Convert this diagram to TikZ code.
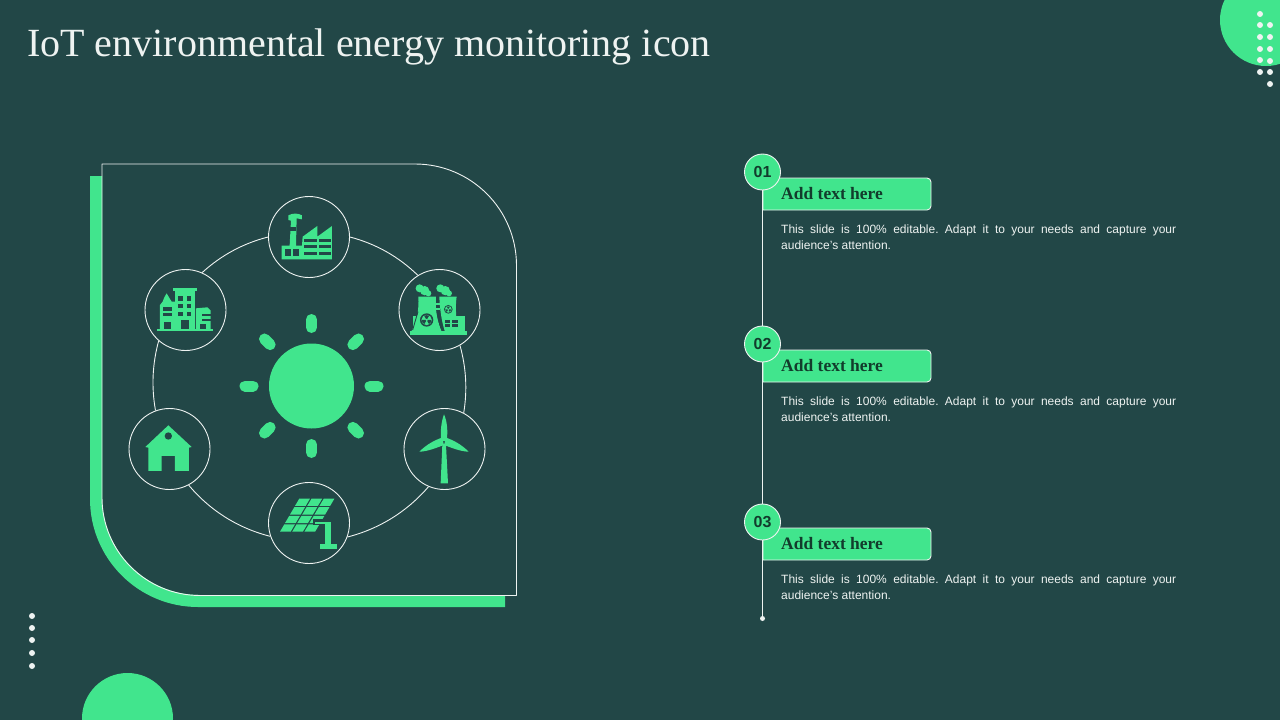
\documentclass[tikz,border=0pt]{standalone}
\usepackage{fontspec}
\setmainfont{Liberation Serif}
\setsansfont{Liberation Sans}
\definecolor{slate}{HTML}{224747}
\definecolor{mint}{HTML}{41E58D}
\definecolor{inkgreen}{HTML}{123C2C}
\definecolor{paper}{HTML}{EEF3F1}
\tikzset{
zoomed/.style 2 args={shift={(#1,#2)},x=0.3333pt,y=-0.3333pt},
ring/.style={circle,draw=paper,fill=slate,line width=0.9pt,minimum size=81pt,inner sep=0pt},
link/.style={draw=paper,line width=0.9pt,looseness=0.88},
ray/.style={draw=mint,line width=11pt,line cap=round},
numdisc/.style={circle,draw=paper,fill=mint,line width=0.9pt,minimum size=36pt,inner sep=0pt,text=inkgreen,font=\sffamily\bfseries\fontsize{16}{16}\selectfont},
tagbox/.style={draw=paper,fill=mint,line width=0.9pt},
tagtext/.style={anchor=base west,inner sep=0pt,text=inkgreen,font=\bfseries\fontsize{17.5}{17.5}\selectfont},
bodytext/.style={anchor=north west,inner sep=0pt,text width=395pt,align=justify,text=paper,font=\sffamily\fontsize{12}{16}\selectfont,execute at begin node={\frenchspacing\hyphenpenalty=10000 \tolerance=9999 }},
dot/.style={fill=paper}
}
\begin{document}
\begin{tikzpicture}[x=1pt,y=-1pt,line join=round]
\useasboundingbox (0,0) rectangle (1280,720);
\fill[slate] (0,0) rectangle (1280,720);
\clip (0,0) rectangle (1280,720);
\node[anchor=base west,inner sep=0pt,text=paper,font=\fontsize{40}{42}\selectfont] (title) at (27,56) {IoT environmental energy monitoring icon};
% corners
\fill[mint] (1266,20) circle (46);
\fill[mint] (127.5,718.5) circle (45.5);
\foreach \y in {14,25,37,49,60,72} \fill[dot] (1260,\y) circle (3);
\foreach \y in {25,37,49,61,72,84} \fill[dot] (1270,\y) circle (3);
\foreach \y in {616,628,640,653,666} \fill[dot] (32,\y) circle (3);
% panel
\fill[mint] (90,176)--(102,176)--(102,497) arc (180:90:98)--(505,595)--(505,607)--(198,607) arc (90:180:108)--cycle;
\draw[paper,line width=0.9pt] (102,164)--(415,164) arc (-90:0:101.5)--(516.5,595.5)--(200,595.5) arc (90:180:98)--cycle;
% ring of nodes
\node[ring] (factory) at (309,237) {};
\node[ring] (plant) at (439.5,310) {};
\node[ring] (turbine) at (444.5,449) {};
\node[ring] (solar) at (309,523) {};
\node[ring] (house) at (169.5,449) {};
\node[ring] (city) at (185.5,310) {};
\draw[link] (factory.0) to[bend left=14.7] (plant.122);
\draw[link] (plant.-60) to[bend left=12.4] (turbine.62.6);
\draw[link] (turbine.-113.5) to[bend left=17.5] (solar.-20);
\draw[link] (solar.199) to[bend left=18] (house.-62.6);
\draw[link] (house.110) to[bend left=12.6] (city.229.6);
\draw[link] (city.66) to[bend left=14] (factory.180);
% sun
\fill[mint] (311.5,386) circle (42.5);
\foreach \a in {0,45,...,315}
  \draw[ray] ([shift={(\a:58.5)}]311.5,386)--([shift={(\a:66.5)}]311.5,386);
% factory
\begin{scope}[zoomed={120}{180}]
\fill[mint] (485,238)--(485,197)--(509,197)--(513,122)--(505,120)--(505,106) .. controls (520,98) and (535,100) .. (546,106)--(546,118)--(530,115)--(528,197)--(546,197)--(548,170)--(592,138)--(592,170)--(636,138)--(636,238)--cycle;
\fill[slate] (510,142) rectangle (528,154);
\foreach \x in {495,520} \fill[slate] (\x,208) rectangle (\x+18,228);
\foreach \y in {177,196,216} {
  \fill[slate] (552,\y) rectangle (590,\y+8);
  \fill[slate] (597,\y) rectangle (632,\y+8);
}
\end{scope}
% city
\begin{scope}[zoomed={120}{180}]
\fill[mint] (158,324) rectangle (232,333);
\fill[mint] (165,333) rectangle (225,447);
\fill[mint] (120,447)--(120,375)--(128,365)--(133,352)--(140,340)--(147,352)--(155,365)--(165,365)--(165,447)--cycle;
\fill[mint] (228,447)--(228,385)--(262,382)--(272,392)--(272,447)--cycle;
\fill[mint] (110,447) rectangle (280,453);
\foreach \x in {175,200} \foreach \y in {348,371,395} \fill[slate] (\x,\y) rectangle (\x+14,\y+14);
\fill[slate] (183,420) rectangle (207,447);
\fill[slate] (130,382) rectangle (155,392);
\fill[slate] (130,398) rectangle (155,408);
\fill[slate] (132,427) rectangle (152,447);
\fill[slate] (247,402) rectangle (272,408);
\fill[slate] (247,416) rectangle (272,422);
\fill[slate] (240,433) rectangle (258,447);
\end{scope}
% plant
\begin{scope}[zoomed={120}{180}]
\foreach \d in {0,62} {
  \fill[mint] (899+\d,325) circle (12);
  \fill[mint] (914+\d,332) circle (14);
  \fill[mint] (925+\d,340) circle (9);
}
\fill[mint] (1005,408) rectangle (1035,455);
\fill[mint] (870,452) rectangle (1040,465);
\fill[mint] (880,408) rectangle (900,455);
\fill[mint] (895,350)--(948,350) .. controls (945,390) and (952,425) .. (966,455)--(874,455) .. controls (890,425) and (898,390) .. (895,350)--cycle;
\fill[mint] (958,350)--(1010,350) .. controls (1006,380) and (1008,400) .. (1012,455)--(975,455) .. controls (965,425) and (960,390) .. (958,350)--cycle;
\draw[slate,line width=0.9pt] (952,360) .. controls (950,395) and (955,425) .. (966,452);
\draw[slate,line width=0.9pt] (894,395)--(878,450);
\fill[mint] (946,368) rectangle (960,374);
\fill[mint] (946,385) rectangle (960,391);
\fill[slate] (975,420) rectangle (990,428);
\fill[slate] (996,420) rectangle (1013,428);
\fill[slate] (975,433) rectangle (990,442);
\fill[slate] (996,433) rectangle (1013,442);
\foreach \cx/\cy/\r in {920/420/20,985/388/13} {
  \fill[slate] (\cx,\cy) circle (\r);
  \fill[mint] (\cx,\cy) circle (0.78*\r);
  \foreach \a in {-90,30,150}
    \fill[slate] (\cx,\cy)--++(\a-30:0.72*\r) arc (\a-30:\a+30:0.72*\r)--cycle;
  \fill[mint] (\cx,\cy) circle (0.17*\r);
}
\end{scope}
% house
\begin{scope}[zoomed={120}{400}]
\fill[mint] (145,76)--(215,141)--(207,143)--(207,213)--(165,213)--(165,168)--(125,168)--(125,213)--(85,213)--(85,143)--(76,141)--cycle;
\fill[slate] (145,108) circle (11);
\end{scope}
% solar
\begin{scope}[zoomed={265}{480}]
\foreach \c in {0,1,2} \foreach \r in {0,1,2,3}
  \fill[mint] ({45+15*\r+36.7*\c},{155-25.75*\r})--++(32,0)--++(13,-22)--++(-32,0)--cycle;
\fill[slate] (145,118) rectangle (205,135);
\fill[mint] (150,125) rectangle (197,132);
\fill[mint] (180,125) rectangle (197,195);
\fill[mint] (165,192) rectangle (215,207);
\end{scope}
% turbine
\begin{scope}[zoomed={400}{405}]
\fill[mint] (122,235)--(144,235)--(138,120)--(127,120)--cycle;
\fill[mint] (132,28) .. controls (142,50) and (144,80) .. (140,108)--(124,108) .. controls (120,80) and (124,50) .. (132,28)--cycle;
\fill[mint] (58,140) .. controls (80,118) and (105,105) .. (126,98)--(132,120) .. controls (105,130) and (80,140) .. (58,140)--cycle;
\fill[mint] (206,140) .. controls (184,118) and (159,105) .. (138,98)--(132,120) .. controls (159,130) and (184,140) .. (206,140)--cycle;
\end{scope}
% list
\node[circle,fill=paper,minimum size=5pt,inner sep=0pt] (tail) at (762.5,618.5) {};
\coordinate (spine) at (762.5,172);
\draw[link] (spine)--(tail);
\foreach \n/\y in {01/172,02/344,03/522} {
  \draw[tagbox] (763,\y+38)--(763,\y+6)[rounded corners=4pt]--(931,\y+6)--(931,\y+38)[sharp corners]--cycle;
  \node[numdisc] (num\n) at (762.5,\y) {\n};
  \node[tagtext] (tag\n) at (781,\y+27) {Add text here};
  \node[bodytext] (body\n) at (781,\y+53) {This slide is 100\% editable. Adapt it to your needs and capture your audience's attention.};
}
\end{tikzpicture}
\end{document}
